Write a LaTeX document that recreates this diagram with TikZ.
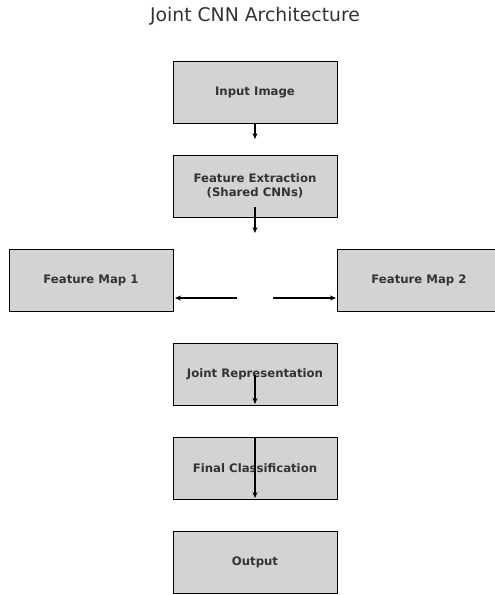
\documentclass[tikz,border=0pt]{standalone}
\usepackage{fontspec}
\setmainfont{DejaVu Sans}
\usetikzlibrary{arrows.meta}
\definecolor{txt}{HTML}{333333}
\begin{document}
\begin{tikzpicture}[x=1pt,y=-1pt,
  block/.style={draw=black,line width=0.9pt,fill={rgb,255:red,211;green,211;blue,211},minimum width=164pt,minimum height=62pt,inner sep=0pt,font=\bfseries\fontsize{11.7}{13.5}\selectfont,text=txt,align=center},
  arr/.style={-{Stealth[length=6pt,width=5pt]},line width=1.2pt,black}]
\useasboundingbox (0,0) rectangle (495,595);
\clip (0,0) rectangle (495,595);
\node[font=\fontsize{18.8}{22}\selectfont,text=txt] (title) at (255,16) {Joint CNN Architecture};
\node[block] (in) at (255,92) {Input Image};
\node[block] (fe) at (255,186) {Feature Extraction\\(Shared CNNs)};
\node[block] (fm1) at (91,280) {Feature Map 1};
\node[block] (fm2) at (419,280) {Feature Map 2};
\node[block] (jr) at (255,374) {Joint Representation};
\node[block] (fc) at (255,468) {Final Classification};
\node[block] (out) at (255,562) {Output};
\coordinate (a1s) at (255,124);
\coordinate (a1e) at (255,139);
\coordinate (a2s) at (255,207);
\coordinate (a2e) at (255,233);
\coordinate (l1s) at (237,298);
\coordinate (l1e) at (175,298);
\coordinate (r1s) at (273,298);
\coordinate (r1e) at (336,298);
\coordinate (a3s) at (255,375);
\coordinate (a3e) at (255,404);
\coordinate (a4s) at (255,438);
\coordinate (a4e) at (255,498);
\draw[arr] (a1s) -- (a1e);
\draw[arr] (a2s) -- (a2e);
\draw[arr] (l1s) -- (l1e);
\draw[arr] (r1s) -- (r1e);
\draw[arr] (a3s) -- (a3e);
\draw[arr] (a4s) -- (a4e);
\end{tikzpicture}
\end{document}
